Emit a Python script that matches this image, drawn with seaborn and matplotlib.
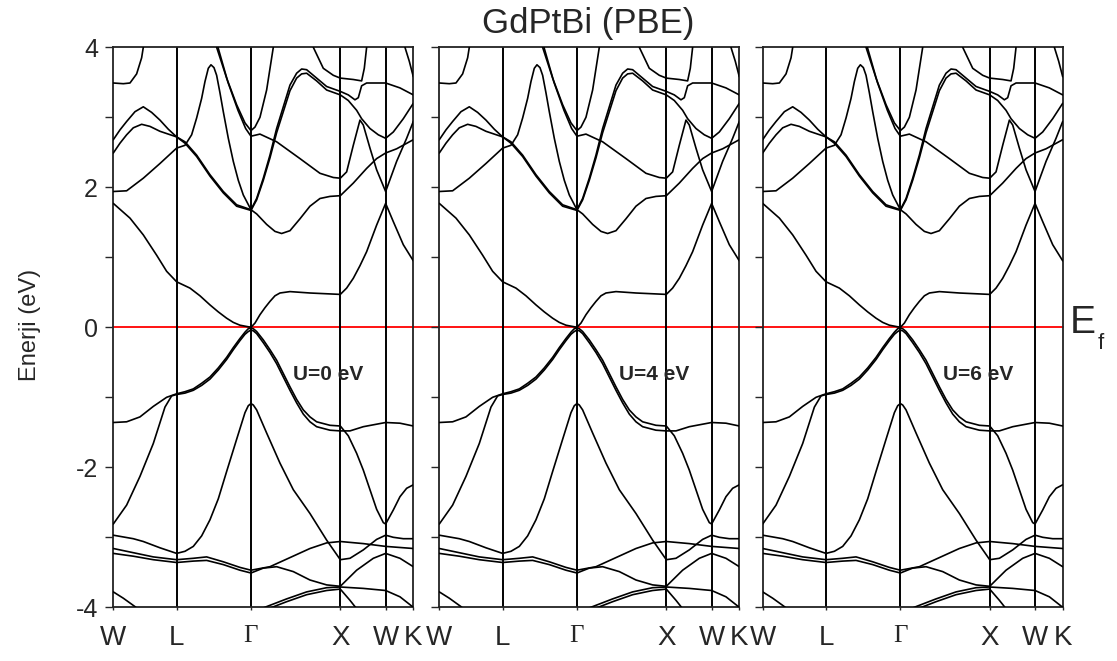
import matplotlib
matplotlib.use('Agg')
import matplotlib.pyplot as plt
import pandas as pd
import seaborn as sns

## band structure GdPtBi (PBE), three U values

# high symmetry points, path length with W = 0
kpts = [0.0, 1.90, 4.13, 6.81, 8.17, 9.00]
klabels = ['W', 'L', 'Γ', 'X', 'W', 'K']
u_labels = ['U=0 eV', 'U=4 eV', 'U=6 eV']
yticks = [-4, -3, -2, -1, 0, 1, 2, 3, 4]
ytick_labels = ['-4', '', '-2', '', '0', '', '2', '', '4']

# bands, (k, E) pairs
v1a = [(0, -1.36), (0.4, -1.35), (0.8, -1.28), (1.2, -1.13), (1.6, -1.00), (1.9, -0.95),
       (2.15, -0.92), (2.4, -0.88), (2.65, -0.80), (2.9, -0.71), (3.15, -0.58), (3.4, -0.43),
       (3.6, -0.29), (3.8, -0.16), (3.95, -0.07), (4.05, -0.02), (4.13, -0.01), (4.2, -0.02),
       (4.3, -0.06), (4.5, -0.18), (4.7, -0.32), (4.9, -0.47), (5.1, -0.66), (5.3, -0.85),
       (5.5, -1.03), (5.7, -1.18), (5.9, -1.28), (6.1, -1.35), (6.5, -1.40), (6.81, -1.41),
       (7.05, -1.55), (7.3, -1.80), (7.5, -2.04), (7.7, -2.32), (7.9, -2.60), (8.1, -2.79),
       (8.17, -2.81), (8.4, -2.61), (8.6, -2.42), (8.8, -2.30), (9.0, -2.25)]
v1b = [(0, -2.81), (0.4, -2.54), (0.8, -2.13), (1.2, -1.66), (1.55, -1.14), (1.75, -0.98),
       (1.9, -0.96), (2.15, -0.94), (2.4, -0.90), (2.65, -0.83), (2.9, -0.74), (3.15, -0.61),
       (3.4, -0.46), (3.6, -0.32), (3.8, -0.19), (3.95, -0.10), (4.05, -0.06), (4.13, -0.04),
       (4.2, -0.05), (4.3, -0.09), (4.5, -0.22), (4.7, -0.36), (4.9, -0.52), (5.1, -0.71),
       (5.3, -0.90), (5.5, -1.08), (5.7, -1.24), (5.9, -1.35), (6.1, -1.42), (6.5, -1.47),
       (6.81, -1.48), (7.1, -1.48), (7.5, -1.42), (8.17, -1.36), (8.6, -1.37), (9.0, -1.41)]
v2 = [(0, -2.97), (0.6, -3.02), (0.9, -3.06), (1.4, -3.15), (1.9, -3.23), (2.15, -3.20),
      (2.4, -3.13), (2.65, -2.98), (2.9, -2.75), (3.15, -2.45), (3.4, -2.06), (3.7, -1.60),
      (3.95, -1.22), (4.05, -1.12), (4.13, -1.09), (4.2, -1.11), (4.3, -1.18), (4.6, -1.51),
      (5.0, -1.94), (5.4, -2.32), (5.9, -2.66), (6.4, -3.04), (6.81, -3.32), (7.1, -3.30),
      (7.5, -3.18), (7.9, -3.03), (8.17, -2.97), (8.4, -3.00), (8.7, -3.02), (9.0, -3.02)]
wv1 = [(0, -3.16), (0.6, -3.22), (1.2, -3.28), (1.9, -3.32), (2.4, -3.30), (2.8, -3.28),
       (3.3, -3.35), (3.8, -3.43), (4.13, -3.47), (4.7, -3.42), (5.3, -3.29), (5.9, -3.16),
       (6.4, -3.08), (6.81, -3.06), (7.5, -3.09), (8.17, -3.13), (9.0, -3.16)]
wv2 = [(0, -3.23), (0.6, -3.27), (1.2, -3.32), (1.9, -3.36), (2.4, -3.34), (2.8, -3.33),
       (3.3, -3.39), (3.8, -3.47), (4.13, -3.51), (4.5, -3.44), (4.9, -3.42), (5.4, -3.49),
       (5.9, -3.61), (6.4, -3.68), (6.81, -3.70), (7.3, -3.47), (7.8, -3.30), (8.17, -3.23),
       (8.6, -3.30), (9.0, -3.42)]
d1 = [(4.13, -4.08), (4.6, -3.99), (5.2, -3.88), (5.8, -3.78), (6.4, -3.72), (6.81, -3.71),
      (7.5, -3.73), (8.17, -3.76), (8.6, -3.85), (9.0, -4.0)]
d2 = [(4.13, -4.12), (4.6, -4.03), (5.2, -3.92), (5.8, -3.82), (6.4, -3.76), (6.81, -3.74),
      (7.1, -3.90), (7.3, -4.02), (7.4, -4.1)]
bl = [(0, -3.78), (0.3, -3.87), (0.65, -3.99), (0.8, -4.05)]

c1 = [(0, 1.77), (0.5, 1.56), (0.9, 1.32), (1.3, 1.03), (1.6, 0.80), (1.9, 0.65), (2.3, 0.56),
      (2.6, 0.45), (2.9, 0.32), (3.15, 0.22), (3.4, 0.13), (3.6, 0.07), (3.8, 0.03), (4.13, 0.0),
      (4.25, 0.06), (4.4, 0.18), (4.55, 0.28), (4.7, 0.37), (4.85, 0.45), (5.0, 0.49), (5.3, 0.51),
      (5.9, 0.49), (6.81, 0.47), (7.0, 0.56), (7.2, 0.70), (7.4, 0.88), (7.6, 1.08), (7.9, 1.46),
      (8.17, 1.77), (8.4, 1.51), (8.7, 1.18), (9.0, 0.95)]
c2 = [(0, 1.94), (0.4, 1.95), (0.9, 2.13), (1.4, 2.34), (1.9, 2.56), (2.15, 2.60), (2.35, 2.75),
      (2.5, 2.99), (2.65, 3.27), (2.75, 3.51), (2.85, 3.70), (2.93, 3.75), (3.02, 3.71),
      (3.1, 3.60), (3.2, 3.35), (3.3, 3.08), (3.45, 2.70), (3.6, 2.37), (3.75, 2.10),
      (3.9, 1.89), (4.13, 1.68)]
c3 = [(0, 2.68), (0.2, 2.82), (0.4, 2.94), (0.65, 3.08), (0.9, 3.15), (1.15, 3.07), (1.4, 2.96),
      (1.65, 2.83), (1.9, 2.72), (2.15, 2.65), (2.5, 2.46), (2.9, 2.18), (3.3, 1.94),
      (3.7, 1.75), (4.13, 1.68)]
c4 = [(0, 2.49), (0.2, 2.63), (0.4, 2.75), (0.6, 2.85), (0.85, 2.90), (1.1, 2.87), (1.4, 2.80),
      (1.65, 2.76), (1.9, 2.72), (2.15, 2.63), (2.5, 2.44), (2.9, 2.16), (3.3, 1.92),
      (3.7, 1.73), (4.13, 1.67)]
c5 = [(3.14, 4.0), (3.44, 3.50), (3.74, 3.10), (3.97, 2.84), (4.13, 2.73), (4.4, 2.76),
      (4.9, 2.65), (5.6, 2.41), (6.2, 2.20), (6.6, 2.14), (6.81, 2.13), (7.0, 2.22), (7.2, 2.60),
      (7.4, 2.96), (7.5, 2.89), (7.7, 2.56), (7.9, 2.25), (8.17, 1.94), (8.5, 2.37), (8.8, 2.70),
      (9.0, 2.94)]
c6 = [(4.13, 1.68), (4.3, 1.62), (4.6, 1.47), (4.85, 1.37), (5.05, 1.34), (5.3, 1.38),
      (5.6, 1.55), (5.9, 1.73), (6.2, 1.84), (6.5, 1.87), (6.81, 1.88), (7.2, 2.06), (7.6, 2.27),
      (7.9, 2.41), (8.17, 2.49), (8.5, 2.55), (9.0, 2.68)]
c7 = [(0, 3.49), (0.3, 3.48), (0.5, 3.49), (0.7, 3.62), (0.85, 3.85), (0.9, 4.0), (0.95, 4.2)]
c8 = [(6.0, 4.0), (6.3, 3.70), (6.6, 3.60), (6.81, 3.56), (7.2, 3.54), (7.45, 3.52),
      (7.53, 3.70), (7.6, 4.0)]
c9 = [(8.75, 4.0), (8.88, 3.80), (9.0, 3.58)]
c10 = [(4.13, 1.68), (4.3, 1.84), (4.5, 2.13), (4.7, 2.46), (4.9, 2.84), (5.1, 3.15), (5.3, 3.46),
       (5.5, 3.63), (5.65, 3.69), (5.8, 3.68), (6.1, 3.56), (6.4, 3.44), (6.81, 3.37), (7.05, 3.32),
       (7.25, 3.25), (7.35, 3.28), (7.45, 3.45), (7.6, 3.49), (8.17, 3.49), (8.6, 3.42), (9.0, 3.32)]
c11 = [(4.13, 1.67), (4.3, 1.82), (4.5, 2.10), (4.7, 2.42), (4.9, 2.78), (5.1, 3.08), (5.3, 3.38),
       (5.5, 3.56), (5.65, 3.62), (5.8, 3.63), (6.1, 3.52), (6.4, 3.39), (6.81, 3.32), (7.05, 3.24),
       (7.3, 3.10), (7.45, 2.98), (7.7, 2.84), (7.95, 2.75), (8.17, 2.70), (8.4, 2.79), (8.7, 2.98),
       (9.0, 3.20)]
c12 = [(3.1, 4.0), (3.4, 3.56), (3.7, 3.18), (3.95, 2.92), (4.13, 2.81), (4.25, 2.86),
       (4.4, 3.0), (4.6, 3.39), (4.8, 4.0)]

bands = {'v1a': v1a, 'v1b': v1b, 'v2': v2, 'wv1': wv1, 'wv2': wv2, 'd1': d1, 'd2': d2,
         'bl': bl, 'c1': c1, 'c2': c2, 'c3': c3, 'c4': c4, 'c5': c5, 'c6': c6, 'c7': c7,
         'c8': c8, 'c9': c9, 'c10': c10, 'c11': c11, 'c12': c12}

rows = []
for name, pts in bands.items():
    for k, e in pts:
        rows.append({'band': name, 'k': k, 'E': e})
df = pd.DataFrame(rows)

sns.set_style('ticks')
plt.rcParams['font.family'] = ['Liberation Sans', 'DejaVu Sans']
plt.rcParams['axes.unicode_minus'] = False

fig = plt.figure(figsize=(11.17, 6.61), dpi=100)
W, H = 1117, 661
lefts = [113.3, 439.3, 762.7]
gap_ext = [(439.3 - 113.3) / 300, (762.7 - 439.3) / 300, 1.0]

for i, x0 in enumerate(lefts):
    ax = fig.add_axes([x0 / W, (H - 607.3) / H, 300 / W, 560 / H])
    ax.axhline(0, xmin=0, xmax=gap_ext[i], color='#ff0000', lw=1.3, clip_on=False, zorder=1)
    sns.lineplot(data=df, x='k', y='E', units='band', estimator=None, sort=False,
                 color='black', lw=1.2, ax=ax, legend=False, zorder=3)
    for kp in kpts[1:-1]:
        ax.axvline(kp, color='black', lw=1.4, zorder=2)
    ax.set_xlim(kpts[0], kpts[-1])
    ax.set_ylim(-4, 4)
    ax.set_xlabel('')
    ax.set_ylabel('')
    for sp in ax.spines.values():
        sp.set_visible(True)
        sp.set_color('#222222')
        sp.set_linewidth(1.3)
    ax.set_yticks(yticks)
    if i == 0:
        ax.set_yticklabels(ytick_labels, fontsize=18)
    else:
        ax.set_yticklabels([])
    ax.tick_params(axis='y', direction='out', length=6, width=1.0, pad=5)
    ax.set_xticks(kpts)
    ax.set_xticklabels(klabels, fontsize=20)
    ax.tick_params(axis='x', direction='out', length=2, width=1.0, pad=11)
    glab = ax.get_xticklabels()[2]
    glab.set_fontfamily(['Liberation Serif', 'DejaVu Serif'])
    glab.set_fontsize(18)
    ax.text(5.4, -0.67, u_labels[i], fontsize=15, fontweight='bold', va='center', ha='left')

fig.text(588 / W, 1 - 23 / H, 'GdPtBi (PBE)', fontsize=25, ha='center', va='center')
fig.text(30 / W, 1 - 325 / H, 'Enerji (eV)', fontsize=17, rotation=90, ha='center', va='center')
fig.text(1070 / W, 1 - 333 / H, 'E', fontsize=28, ha='left', va='baseline')
fig.text(1098 / W, 1 - 349 / H, 'f', fontsize=16, ha='left', va='baseline')

plt.savefig('out.png', dpi=100)
